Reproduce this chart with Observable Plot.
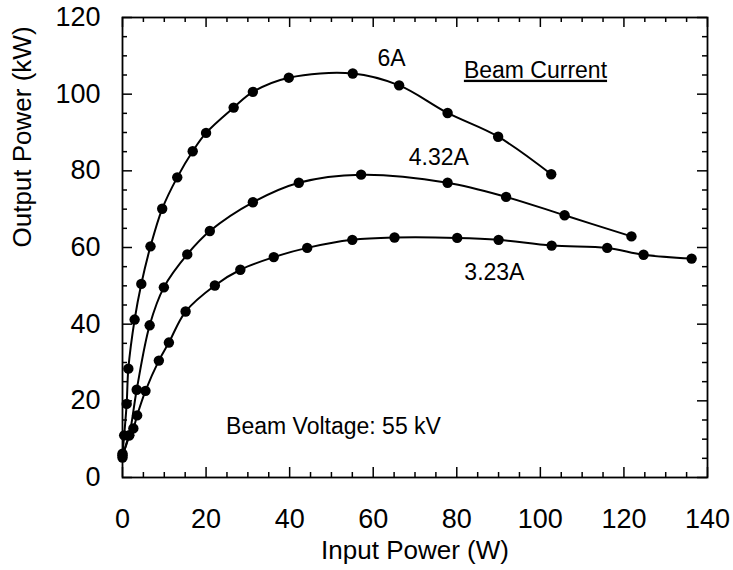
<!DOCTYPE html>
<html>
<head>
<meta charset="utf-8">
<script src="https://cdn.jsdelivr.net/npm/d3@7"></script>
<script src="https://cdn.jsdelivr.net/npm/@observablehq/plot@0.6"></script>
<style>
  body { margin: 0; background: #fff; }
  #chart svg { display: block; }
</style>
</head>
<body>
<div id="chart"></div>
<script>
// ---- data ----
const seriesNames = ["6A", "4.32A", "3.23A"];

const inputPower6A  = [0, 0.4, 1.0, 1.4, 2.9, 4.5, 6.7, 9.5, 13.1, 16.8, 20.0, 26.6, 31.2, 39.8, 55.1, 66.2, 77.8, 89.9, 102.6];
const outputPower6A = [6.2, 11.0, 19.2, 28.4, 41.2, 50.5, 60.3, 70.1, 78.3, 85.1, 89.9, 96.5, 100.6, 104.3, 105.4, 102.3, 95.1, 88.9, 79.1];

const inputPower432A  = [0, 1.6, 3.4, 6.5, 9.9, 15.5, 20.9, 31.2, 42.2, 57.1, 77.8, 91.8, 105.8, 121.8];
const outputPower432A = [5.8, 11.0, 22.9, 39.7, 49.6, 58.2, 64.3, 71.8, 76.9, 79.0, 76.9, 73.2, 68.4, 62.9];

const inputPower323A  = [0, 1.6, 2.6, 3.5, 5.5, 8.7, 11.1, 15.1, 22.1, 28.2, 36.2, 44.2, 55.0, 65.1, 80.1, 90.0, 102.7, 116.0, 124.7, 136.2];
const outputPower323A = [5.2, 11.0, 12.8, 16.2, 22.6, 30.5, 35.2, 43.3, 50.1, 54.2, 57.5, 59.9, 62.0, 62.6, 62.5, 62.0, 60.5, 59.9, 58.1, 57.1];

const xMajorTicks = [0, 20, 40, 60, 80, 100, 120, 140];
const xMinorTicks = [5, 10, 15, 25, 30, 35, 45, 50, 55, 65, 70, 75, 85, 90, 95, 105, 110, 115, 125, 130, 135];
const yMajorTicks = [0, 20, 40, 60, 80, 100, 120];
const yMinorTicks = [5, 10, 15, 25, 30, 35, 45, 50, 55, 65, 70, 75, 85, 90, 95, 105, 110, 115];

const xTitle = "Input Power (W)";
const yTitle = "Output Power (kW)";

// series labels (centered)
const labelText = ["6A", "4.32A", "3.23A", "Beam Voltage: 55 kV"];
const labelX    = [64.4, 75.7, 89.0, 50.5];
const labelY    = [109.3, 83.5, 53.4, 13.4];
// legend heading (left-aligned, underlined)
const headingText = ["Beam Current"];
const headingX    = [81.7];
const headingY    = [106.2];

// ---- build tables ----
function rows(name, xs, ys) { return xs.map((x, i) => ({series: name, x, y: ys[i]})); }
const points = [
  ...rows(seriesNames[0], inputPower6A, outputPower6A),
  ...rows(seriesNames[1], inputPower432A, outputPower432A),
  ...rows(seriesNames[2], inputPower323A, outputPower323A)
];
const labels = labelText.map((t, i) => ({text: t, x: labelX[i], y: labelY[i]}));
const headings = headingText.map((t, i) => ({text: t, x: headingX[i], y: headingY[i]}));

// ---- layout ----
const W = 733, H = 570;
const mL = 122, mR = 26, mT = 17, mB = 93;
const fw = W - mL - mR, fh = H - mT - mB;
const majorLen = 10, minorLen = 5;
const font = "'Liberation Sans', Arial, Helvetica, sans-serif";

const chart = Plot.plot({
  width: W, height: H,
  marginLeft: mL, marginRight: mR, marginTop: mT, marginBottom: mB,
  x: {domain: [0, 140]},
  y: {domain: [0, 120]},
  style: {fontFamily: font, color: "#000", background: "#fff", overflow: "visible"},
  marks: [
    // inward ticks on all four sides
    Plot.tickX(xMajorTicks, {x: d => d, insetTop: fh - majorLen, strokeWidth: 1.5}),
    Plot.tickX(xMinorTicks, {x: d => d, insetTop: fh - minorLen, strokeWidth: 1.5}),
    Plot.tickX(xMajorTicks, {x: d => d, insetBottom: fh - majorLen, strokeWidth: 1.5}),
    Plot.tickX(xMinorTicks, {x: d => d, insetBottom: fh - minorLen, strokeWidth: 1.5}),
    Plot.tickY(yMajorTicks, {y: d => d, insetRight: fw - majorLen, strokeWidth: 1.5}),
    Plot.tickY(yMinorTicks, {y: d => d, insetRight: fw - minorLen, strokeWidth: 1.5}),
    Plot.tickY(yMajorTicks, {y: d => d, insetLeft: fw - majorLen, strokeWidth: 1.5}),
    Plot.tickY(yMinorTicks, {y: d => d, insetLeft: fw - minorLen, strokeWidth: 1.5}),
    // tick labels
    Plot.axisX(xMajorTicks, {tickSize: 0, tickPadding: 31, fontSize: 27, label: null}),
    Plot.axisY(yMajorTicks, {tickSize: 0, tickPadding: 22, fontSize: 27, label: null}),
    // axis titles
    Plot.text([xTitle], {text: d => d, frameAnchor: "bottom", dy: 73, fontSize: 26, lineAnchor: "middle"}),
    Plot.text([yTitle], {text: d => d, frameAnchor: "left", dx: -100, rotate: -90, fontSize: 26, lineAnchor: "middle"}),
    Plot.frame({stroke: "#000", strokeWidth: 1.8}),
    // curves and points
    Plot.line(points, {x: "x", y: "y", z: "series", curve: "catmull-rom", stroke: "#000", strokeWidth: 2}),
    Plot.dot(points, {x: "x", y: "y", r: 5.2, fill: "#000", stroke: "none"}),
    // annotations
    Plot.text(labels, {x: "x", y: "y", text: "text", textAnchor: "middle", fontSize: 23, fill: "#000"}),
    Plot.text(headings, {x: "x", y: "y", text: "text", textAnchor: "start", fontSize: 23, fill: "#000"})
  ]
});

// underline the legend heading
d3.select(chart).selectAll("text").filter(function() { return this.textContent === "Beam Current"; })
  .style("text-decoration", "underline");

document.getElementById("chart").appendChild(chart);
</script>
</body>
</html>
